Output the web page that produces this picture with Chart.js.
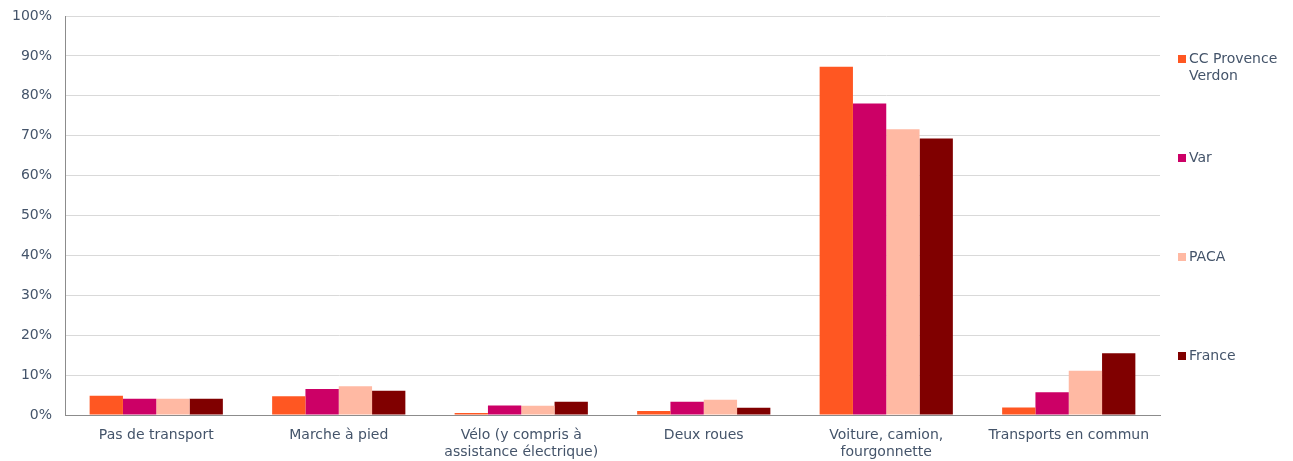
<!DOCTYPE html>
<html>
<head>
<meta charset="utf-8">
<script src="https://cdn.jsdelivr.net/npm/chart.js@4/dist/chart.umd.min.js"></script>
<style>
  html, body { margin: 0; padding: 0; background: #fff; }
  #wrap { width: 1293px; height: 461px; position: relative; }
</style>
</head>
<body>
<div id="wrap"><canvas id="modesChart"></canvas></div>
<script>
const categories = [
  "Pas de transport",
  "Marche à pied",
  ["Vélo (y compris à", "assistance électrique)"],
  "Deux roues",
  ["Voiture, camion,", "fourgonnette"],
  "Transports en commun",
];
const seriesNames = [["CC Provence", "Verdon"], ["Var"], ["PACA"], ["France"]];
const ccProvenceVerdon = [4.8, 4.7, 0.5, 1.0, 87.3, 1.9];
const var83 = [4.1, 6.5, 2.4, 3.3, 78.1, 5.7];
const paca = [4.1, 7.2, 2.3, 3.8, 71.6, 11.1];
const france = [4.1, 6.1, 3.3, 1.8, 69.3, 15.5];
const yTicks = [0, 10, 20, 30, 40, 50, 60, 70, 80, 90, 100];

const colors = ["#FF5722", "#CC0066", "#FFB9A3", "#800000"];
const textColor = "#44546A";
const font = { family: "'DejaVu Sans', Verdana, sans-serif", size: 14 };

// legend drawn at the right, spread over the plot height
const sideLegend = {
  id: "sideLegend",
  afterDraw(chart) {
    const ctx = chart.ctx;
    const area = chart.chartArea;
    const step = 99;
    ctx.save();
    ctx.font = font.size + "px " + font.family;
    ctx.textBaseline = "middle";
    chart.data.datasets.forEach((ds, i) => {
      const y = 59 + i * step;
      ctx.fillStyle = ds.backgroundColor;
      ctx.fillRect(area.right + 18, y - 4, 8, 8);
      ctx.fillStyle = textColor;
      seriesNames[i].forEach((line, j) => {
        ctx.fillText(line, area.right + 29, y + j * 17);
      });
    });
    ctx.restore();
  },
};

const ctx = document.getElementById("modesChart").getContext("2d");
const chart = new Chart(ctx, {
  type: "bar",
  data: {
    labels: categories,
    datasets: [ccProvenceVerdon, var83, paca, france].map((d, i) => ({
      label: seriesNames[i].join(" "),
      data: d,
      backgroundColor: colors[i],
      borderWidth: 0,
      barPercentage: 1,
      categoryPercentage: 0.73,
    })),
  },
  options: {
    responsive: true,
    maintainAspectRatio: false,
    animation: false,
    layout: { padding: { top: 16, right: 133, left: 0, bottom: 0 } },
    scales: {
      x: {
        grid: { display: false, drawTicks: false },
        border: { color: "#8C8C8C", width: 1 },
        ticks: { color: textColor, font: font, padding: 12, maxRotation: 0, autoSkip: false },
        afterFit: (s) => { s.height = 46; s.paddingLeft = 0; s.paddingRight = 0; },
      },
      y: {
        min: 0,
        max: 100,
        afterBuildTicks: (s) => { s.ticks = yTicks.map((v) => ({ value: v })); },
        grid: { color: "#D9D9D9", drawTicks: false },
        border: { color: "#8C8C8C", width: 1 },
        ticks: { color: textColor, font: font, padding: 13, callback: (v) => v + "%" },
        afterFit: (s) => { s.width = 65; s.paddingTop = 0; s.paddingBottom = 0; },
      },
    },
    plugins: {
      legend: { display: false },
      tooltip: { enabled: false },
    },
  },
  plugins: [sideLegend],
});
</script>
</body>
</html>
